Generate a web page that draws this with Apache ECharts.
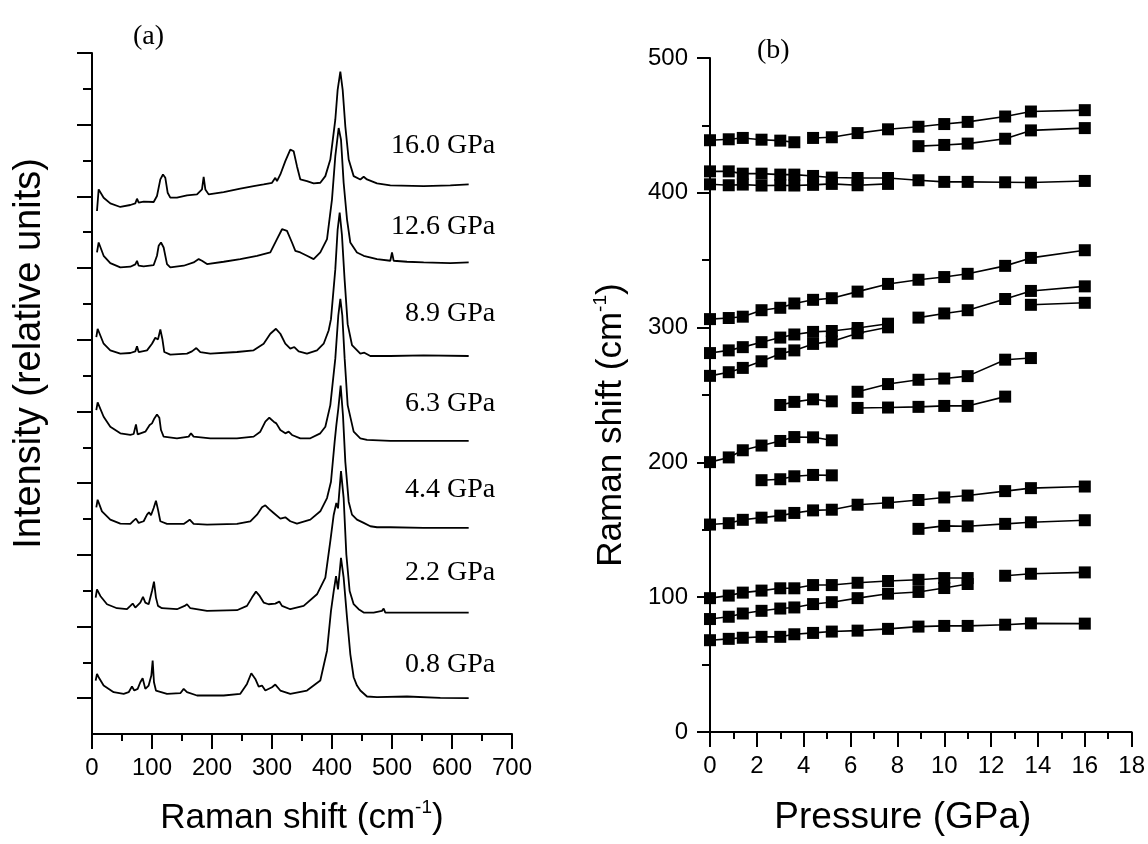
<!DOCTYPE html>
<html><head><meta charset="utf-8">
<script src="https://cdn.jsdelivr.net/npm/echarts@6/dist/echarts.min.js"></script>
<style>html,body{margin:0;padding:0;background:#fff}#c{width:1148px;height:844px}</style>
</head><body><div id="c"></div>
<script>
// ---------- Panel (a): Raman spectra, [Raman shift (cm-1), intensity (relative units)] ----------
const spec160 = [[8.3,1576],[11.1,1641],[19.4,1616],[30.5,1599],[47.2,1588],[63.9,1594],[72.2,1599],[75.0,1613],[77.8,1601],[86.1,1604],[102.8,1603],[108.3,1621],[113.9,1671],[118.3,1686],[122.2,1676],[126.1,1631],[130.5,1616],[141.6,1616],[158.3,1623],[175.0,1626],[183.3,1641],[186.1,1679],[188.9,1641],[194.4,1626],[219.4,1633],[247.2,1643],[269.4,1651],[286.1,1656],[300.0,1661],[305.5,1676],[308.3,1666],[313.9,1686],[322.2,1726],[330.5,1761],[336.1,1756],[341.6,1711],[347.2,1671],[358.3,1666],[369.4,1659],[380.5,1661],[388.9,1681],[397.2,1731],[405.5,1851],[409.4,1941],[413.9,1996],[417.8,1941],[422.2,1831],[427.8,1731],[436.1,1681],[447.2,1671],[452.8,1679],[458.3,1671],[475.0,1659],[497.2,1653],[552.8,1651],[597.2,1653],[627.8,1656]];
const spec126 = [[8.3,1451],[11.1,1481],[19.4,1441],[30.5,1419],[47.2,1406],[63.9,1408],[72.2,1415],[75.0,1426],[77.8,1411],[86.1,1409],[102.8,1413],[108.3,1441],[111.1,1471],[115.0,1481],[119.4,1466],[125.0,1416],[130.5,1406],[152.8,1411],[169.4,1421],[177.8,1431],[183.3,1426],[191.7,1416],[219.4,1423],[247.2,1431],[275.0,1441],[297.2,1451],[308.3,1491],[316.7,1521],[325.0,1516],[333.3,1481],[338.9,1456],[347.2,1451],[358.3,1441],[369.4,1431],[380.5,1451],[391.7,1491],[400.0,1611],[405.5,1741],[411.1,1826],[415.0,1791],[419.4,1661],[425.0,1551],[430.5,1481],[441.6,1451],[452.8,1441],[475.0,1431],[497.2,1426],[500.0,1451],[502.8,1426],[525.0,1423],[552.8,1421],[597.2,1419],[627.8,1421]];
const spec89 = [[7.2,1196],[9.4,1221],[19.4,1176],[30.5,1156],[47.2,1146],[63.9,1148],[72.2,1153],[75.0,1168],[77.8,1151],[91.7,1156],[100.0,1176],[105.5,1194],[110.0,1189],[113.9,1219],[117.2,1191],[120.5,1151],[130.5,1143],[158.3,1146],[166.6,1153],[173.9,1163],[180.5,1151],[197.2,1146],[241.6,1151],[269.4,1156],[286.1,1176],[297.2,1206],[306.6,1221],[313.9,1206],[322.2,1176],[330.5,1161],[337.2,1166],[344.4,1153],[358.3,1146],[375.0,1156],[386.1,1176],[394.4,1216],[398.3,1250],[405.5,1400],[409.4,1520],[412.8,1571],[416.6,1503],[421.1,1367],[426.1,1235],[433.3,1172],[447.2,1146],[453.9,1149],[463.9,1139],[497.2,1139],[552.8,1141],[627.8,1139]];
const spec63 = [[7.2,976],[9.4,999],[19.4,956],[30.5,926],[47.2,906],[63.9,901],[69.4,904],[73.3,933],[76.1,903],[88.9,911],[96.1,931],[100.0,936],[103.9,951],[108.3,963],[112.2,953],[115.0,916],[119.4,896],[141.6,891],[161.1,896],[165.0,906],[169.4,896],[197.2,891],[241.6,891],[269.4,896],[280.5,911],[288.9,941],[295.5,953],[302.8,941],[307.2,936],[313.9,916],[322.2,906],[327.8,911],[333.3,901],[347.2,891],[363.9,891],[380.5,906],[388.9,926],[397.2,991],[405.5,1131],[410.5,1261],[413.9,1311],[417.2,1261],[421.1,1131],[426.1,991],[436.1,911],[447.2,891],[458.3,886],[497.2,883],[552.8,883],[627.8,883]];
const spec44 = [[7.2,683],[9.4,706],[16.6,671],[30.5,646],[47.2,634],[63.9,633],[69.4,643],[73.3,649],[77.8,636],[86.1,641],[91.7,661],[95.0,668],[98.3,659],[102.8,681],[106.6,703],[110.0,676],[113.9,641],[125.0,633],[152.8,633],[159.4,641],[162.8,646],[169.4,633],[191.7,631],[241.6,633],[263.9,641],[275.0,661],[283.3,683],[288.9,689],[294.4,679],[302.8,666],[313.9,649],[322.2,653],[330.5,641],[341.6,634],[363.9,646],[380.5,671],[391.7,711],[398.3,760],[404.4,880],[407.2,930],[410.5,980],[414.4,1050],[418.3,960],[422.2,820],[427.8,700],[433.3,661],[441.6,646],[452.8,636],[463.9,626],[475.0,623],[497.2,623],[552.8,621],[627.8,621]];
const spec22 = [[6.1,411],[8.3,436],[13.9,416],[25.0,391],[41.6,379],[58.3,376],[63.9,386],[67.8,393],[72.2,381],[80.5,396],[85.0,413],[88.9,396],[94.4,391],[100.0,431],[103.3,459],[106.6,411],[110.0,386],[116.6,379],[141.6,376],[154.4,386],[158.3,391],[163.9,379],[191.7,371],[241.6,373],[258.3,386],[266.6,411],[273.3,429],[279.4,416],[286.1,396],[294.4,391],[305.5,393],[312.2,399],[316.6,386],[330.5,376],[352.8,386],[375.0,421],[388.9,471],[397.2,581],[402.8,660],[407.2,696],[410.0,680],[415.0,792],[419.4,711],[423.9,541],[429.4,431],[436.1,391],[444.4,376],[452.8,366],[469.4,366],[483.3,371],[486.1,378],[488.9,366],[525.0,366],[580.5,366],[627.8,366]];
const spec08 = [[6.1,161],[8.3,181],[11.1,171],[19.4,146],[36.1,126],[52.8,121],[61.1,126],[66.6,143],[70.5,131],[76.1,136],[80.5,156],[84.4,168],[88.9,136],[94.4,146],[98.9,176],[101.1,221],[103.3,156],[106.6,131],[125.0,121],[147.2,123],[152.8,136],[158.3,126],[175.0,116],[219.4,116],[247.2,121],[258.3,151],[265.5,183],[272.2,166],[277.8,143],[283.3,146],[288.9,131],[300.0,141],[305.5,149],[313.9,131],[330.5,121],[358.3,131],[380.5,161],[391.7,251],[398.3,371],[402.8,430],[406.7,476],[410.0,436],[415.0,531],[419.4,471],[425.0,351],[430.5,241],[436.1,171],[441.6,146],[447.2,131],[458.3,113],[475.0,111],[525.0,113],[580.5,109],[627.8,108]];
const spectraList = [spec160, spec126, spec89, spec63, spec44, spec22, spec08];
const pressureLabels = ['16.0 GPa','12.6 GPa','8.9 GPa','6.3 GPa','4.4 GPa','2.2 GPa','0.8 GPa'];
const pressureLabelX = 672;
const pressureLabelY = [1773, 1530, 1266, 996, 735, 486, 210];
const intensityMajorTicks = [108,324,540,756,972,1188,1404,1620,1836,2052];
const intensityMinorTicks = [216,432,648,864,1080,1296,1512,1728,1944];

// ---------- Panel (b): Raman shift vs pressure ----------
const pressures = [0, 0.8, 1.4, 2.2, 3.0, 3.6, 4.4, 5.2, 6.3, 7.6, 8.9, 10.0, 11.0, 12.6, 13.7, 16.0];
const _ = null;
const b440a = [439.0,439.7,440.7,439.4,438.7,437.5,_,_,_,_,_,_,_,_,_,_];
const b440b = [_,_,_,_,_,_,440.7,441.2,444.3,447.1,449.0,451.0,452.6,456.6,460.3,461.3];
const b435  = [_,_,_,_,_,_,_,_,_,_,434.6,435.5,436.5,440.1,446.3,448.0];
const b415  = [415.9,415.9,414.2,414.2,413.5,413.5,412.5,411.3,411.0,411.0,409.3,408.1,408.1,407.8,407.6,408.8];
const b406  = [406.3,405.6,406.1,405.4,405.6,405.4,405.9,406.6,405.6,406.6,_,_,_,_,_,_];
const b307  = [306.3,307.1,308.1,312.9,314.7,317.9,320.6,321.8,326.7,332.4,335.5,337.5,339.9,345.8,351.7,357.4];
const b308  = [_,_,_,_,_,_,_,_,_,_,307.4,310.5,312.9,321.2,327.2,330.6];
const b317  = [_,_,_,_,_,_,_,_,_,_,_,_,_,_,316.9,318.4];
const b281  = [281.1,283.1,285.5,289.2,292.6,294.9,296.8,297.5,299.7,302.9,_,_,_,_,_,_];
const b264  = [264.2,266.9,270.1,275.0,280.6,283.1,287.9,289.7,295.8,300.2,_,_,_,_,_,_];
const b253  = [_,_,_,_,_,_,_,_,252.4,258.1,261.3,262.2,264.0,276.2,277.4,_];
const b245  = [_,_,_,_,242.6,244.9,246.8,245.3,_,_,_,_,_,_,_,_];
const b241  = [_,_,_,_,_,_,_,_,240.4,240.7,241.2,241.9,241.9,248.8,_,_];
const b200  = [200.2,203.7,209.0,212.5,215.9,218.8,218.6,216.4,_,_,_,_,_,_,_,_];
const b188  = [_,_,_,186.8,187.5,189.7,190.7,190.4,_,_,_,_,_,_,_,_];
const b155  = [153.9,154.9,157.4,159.0,160.5,162.5,164.4,164.9,168.6,170.1,172.1,174.0,175.4,178.7,180.9,182.1];
const b152  = [_,_,_,_,_,_,_,_,_,_,150.7,152.9,152.6,154.4,155.6,157.1];
const b100  = [99.3,101.2,103.4,104.9,106.6,106.6,109.0,109.0,110.7,112.0,112.9,114.2,114.2,_,_,_];
const b116  = [_,_,_,_,_,_,_,_,_,_,_,_,_,115.9,117.4,118.4];
const b84   = [83.8,85.5,87.9,89.9,91.6,92.4,94.9,96.3,99.3,102.6,103.9,106.8,109.8,_,_,_];
const b68   = [68.1,69.1,69.9,70.6,70.6,72.5,73.5,74.5,75.2,76.5,78.2,78.7,78.7,79.6,80.6,80.4];
const branches = [b440a,b440b,b435,b415,b406,b307,b308,b317,b281,b264,b253,b245,b241,b200,b188,b155,b152,b100,b116,b84,b68];

const SANS = 'Liberation Sans', SERIF = 'Liberation Serif';
function nameStyle(size, extra) {
  const s = {fontFamily: SANS, fontSize: size, color: '#000', lineHeight: size + 6,
    rich: {sup: {fontFamily: SANS, fontSize: Math.round(size * 0.55), color: '#000', lineHeight: Math.round(size * 0.6), verticalAlign: 'top'}}};
  return Object.assign(s, extra || {});
}
const lineSt = {color: '#000', width: 2};

const series = [];
spectraList.forEach(function (d) {
  series.push({type: 'line', xAxisIndex: 0, yAxisIndex: 0, data: d, showSymbol: false, symbol: 'none',
    lineStyle: {color: '#000', width: 1.8}, silent: true});
});
series.push({type: 'scatter', xAxisIndex: 0, yAxisIndex: 0, symbolSize: 0, itemStyle: {opacity: 1},
  data: pressureLabels.map(function (t, i) { return {name: t, value: [pressureLabelX, pressureLabelY[i]]}; }),
  label: {show: true, position: 'left', distance: 0, formatter: '{b}', fontFamily: SERIF, fontSize: 28, color: '#000', opacity: 1}});
branches.forEach(function (b) {
  const d = [];
  b.forEach(function (v, i) { if (v !== null) d.push([pressures[i], v]); });
  series.push({type: 'line', xAxisIndex: 1, yAxisIndex: 2, data: d, symbol: 'rect', symbolSize: 12,
    itemStyle: {color: '#000'}, lineStyle: {color: '#000', width: 1.6}});
});

const chart = echarts.init(document.getElementById('c'), null, {renderer: 'canvas'});
chart.setOption({
  animation: false,
  backgroundColor: '#fff',
  title: [
    {text: '(a)', left: 128, top: 18, textStyle: {fontFamily: SERIF, fontSize: 28, fontWeight: 'normal', color: '#000'}},
    {text: '(b)', left: 752, top: 32, textStyle: {fontFamily: SERIF, fontSize: 28, fontWeight: 'normal', color: '#000'}}
  ],
  grid: [
    {left: 92, top: 53, width: 420, height: 684},
    {left: 710, top: 58, width: 423, height: 680}
  ],
  xAxis: [
    {gridIndex: 0, type: 'value', min: 0, max: 700, interval: 100,
      axisLine: {lineStyle: lineSt}, axisTick: {length: 15, lineStyle: lineSt},
      minorTick: {show: true, splitNumber: 2, length: 7, lineStyle: lineSt},
      splitLine: {show: false}, minorSplitLine: {show: false},
      axisLabel: {fontFamily: SANS, fontSize: 24, color: '#000', margin: 22},
      name: 'Raman shift (cm{sup|-1})', nameLocation: 'middle', nameGap: 64, nameTextStyle: nameStyle(35)},
    {gridIndex: 1, type: 'value', min: 0, max: 18, interval: 2,
      axisLine: {lineStyle: lineSt}, axisTick: {length: 15, lineStyle: lineSt},
      minorTick: {show: true, splitNumber: 2, length: 7, lineStyle: lineSt},
      splitLine: {show: false}, minorSplitLine: {show: false},
      axisLabel: {fontFamily: SANS, fontSize: 24, color: '#000', margin: 22},
      name: 'Pressure (GPa)', nameLocation: 'middle', nameGap: 64, nameTextStyle: nameStyle(37, {padding: [0, 36, 0, 0]})}
  ],
  yAxis: [
    {gridIndex: 0, type: 'value', min: 0, max: 2052, interval: 108, position: 'left',
      axisLine: {show: true, lineStyle: lineSt},
      axisTick: {show: true, customValues: intensityMajorTicks, length: 15, lineStyle: lineSt},
      axisLabel: {show: false}, splitLine: {show: false},
      name: 'Intensity (relative units)', nameLocation: 'middle', nameGap: 40,
      nameTextStyle: nameStyle(38, {padding: [0, 0, 0, 80]})},
    {gridIndex: 0, type: 'value', min: 0, max: 2052, interval: 108, position: 'left', offset: 0,
      axisLine: {show: false},
      axisTick: {show: true, customValues: intensityMinorTicks, length: 9, lineStyle: lineSt},
      axisLabel: {show: false}, splitLine: {show: false}},
    {gridIndex: 1, type: 'value', min: 0, max: 500, interval: 100,
      axisLine: {show: true, lineStyle: lineSt}, axisTick: {length: 13, lineStyle: lineSt},
      minorTick: {show: true, splitNumber: 2, length: 8, lineStyle: lineSt},
      splitLine: {show: false}, minorSplitLine: {show: false},
      axisLabel: {fontFamily: SANS, fontSize: 24, color: '#000', margin: 22},
      name: 'Raman shift (cm{sup|-1})', nameLocation: 'middle', nameGap: 78,
      nameTextStyle: nameStyle(35, {padding: [0, 60, 0, 0]})}
  ],
  series: series
});
</script></body></html>
